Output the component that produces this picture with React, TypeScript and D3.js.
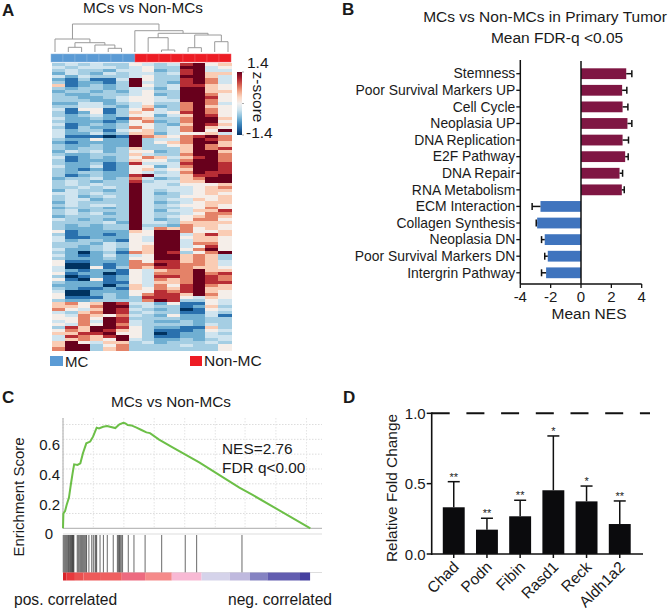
import * as d3 from 'd3';

const FONT = '"Liberation Sans", Arial, sans-serif';

// --- Panel A: heatmap, one digit per cell (looked up in digitZ), groups are only for reading
const heatRows = [
  '343433 54 34 89 56', '434443 45 33 99 45', '343324 45 23 89 44', '243243 44 34 89 66',
  '424333 45 33 99 64', '213114 95 33 89 74', '312213 94 32 89 74', '612323 95 34 88 65',
  '323323 44 24 99 65', '233232 45 33 99 66', '322333 45 23 99 75', '332234 55 43 99 85',
  '333224 55 44 99 75', '224423 45 33 79 74', '334432 46 23 79 65', '415513 57 43 79 75',
  '312513 65 45 89 75', '323423 55 24 69 85', '422321 76 33 79 96', '322212 57 23 79 95',
  '412323 55 32 69 86', '313223 75 34 79 65', '423314 56 34 79 59', '422423 66 24 55 64',
  '411101 97 65 78 97', '322522 93 44 79 87', '212222 93 56 79 96', '322322 93 35 69 76',
  '323323 63 33 69 78', '243423 55 23 69 96', '322333 64 33 79 97', '412323 57 64 68 97',
  '312223 65 53 79 97', '322312 84 44 89 98', '422412 55 24 79 98', '321212 56 45 69 98',
  '323322 54 34 79 88', '312322 89 44 68 89', '233423 74 23 67 99', '343233 83 44 66 99',
  '343433 94 43 55 56', '334343 94 44 45 67', '243323 94 34 45 66', '443433 94 23 45 65',
  '342343 94 33 55 56', '344233 94 34 46 56', '243333 94 23 45 66', '343443 94 34 55 65',
  '233323 94 33 45 75', '342333 94 24 46 68', '343423 94 33 45 77', '233333 94 34 56 76',
  '432323 94 23 57 75', '333342 94 43 66 66', '323233 93 32 76 65', '322233 94 76 75 65',
  '512222 65 99 75 56', '312212 55 99 46 86', '411222 54 99 56 65', '423321 54 99 46 65',
  '333243 55 99 47 75', '332343 56 99 45 85', '422342 56 99 57 95', '320231 76 98 35 79',
  '421242 45 99 67 63', '322232 55 99 67 63', '511222 75 88 67 64', '500212 77 98 77 64',
  '400513 76 88 76 65', '421221 54 67 79 66', '512201 54 77 79 78', '301212 54 88 79 87',
  '510512 54 76 79 87', '322211 54 66 79 88', '222202 64 75 89 76', '321121 65 76 89 66',
  '400222 55 87 89 65', '500232 57 88 69 75', '511132 38 88 54 65', '322333 37 98 33 54',
  '675698 44 25 11 54', '665799 34 33 12 63', '754698 43 23 01 54', '436798 34 33 11 43',
  '547657 43 25 22 41', '557598 33 33 22 33', '457498 43 22 32 33', '547597 43 33 32 43',
  '386998 53 22 11 63', '576986 53 11 12 54', '668895 53 01 22 43', '487689 53 11 22 44',
  '467659 43 22 32 34', '695466 34 23 33 43', '699357 33 33 43 35', '799367 33 33 33 35',
];
const digitZ = [-1.4, -1.05, -0.68, -0.47, -0.27, 0.05, 0.35, 0.7, 1.05, 1.4];
const heatCells = heatRows.map((r) => r.replace(/ /g, '').split('').map(Number));
const annoClasses = ['MC', 'MC', 'MC', 'MC', 'MC', 'MC', 'MC', 'Non', 'Non', 'Non', 'Non', 'Non', 'Non', 'Non', 'Non'];

type TreeNode = { h: number; children?: TreeNode[] };
const leaf = (): TreeNode => ({ h: 0 });
const treeData: TreeNode = {
  h: 28,
  children: [
    {
      h: 13,
      children: [
        leaf(),
        {
          h: 9.3,
          children: [
            { h: 4.7, children: [leaf(), leaf()] },
            { h: 7, children: [leaf(), { h: 3.7, children: [leaf(), leaf()] }] },
          ],
        },
      ],
    },
    {
      h: 21.3,
      children: [
        leaf(),
        {
          h: 18.7,
          children: [
            { h: 14.3, children: [leaf(), { h: 2, children: [leaf(), leaf()] }] },
            {
              h: 17,
              children: [
                { h: 4.3, children: [leaf(), leaf()] },
                { h: 10.3, children: [leaf(), leaf()] },
              ],
            },
          ],
        },
      ],
    },
  ],
};

// --- Panel B
const nesLabels = [
  'Stemness', 'Poor Survival Markers UP', 'Cell Cycle', 'Neoplasia UP', 'DNA Replication', 'E2F Pathway',
  'DNA Repair', 'RNA Metabolism', 'ECM Interaction', 'Collagen Synthesis', 'Neoplasia DN',
  'Poor Survival Markers DN', 'Intergrin Pathway',
];
const nesValues = [2.98, 2.71, 2.74, 3.06, 2.74, 2.91, 2.54, 2.69, -2.67, -2.89, -2.39, -2.19, -2.3];
const nesErrEnd = [3.35, 3.02, 3.09, 3.35, 3.13, 3.11, 2.74, 2.85, -3.22, -2.95, -2.6, -2.39, -2.6];
const nesTicks = [-4, -2, 0, 2, 4];

// --- Panel C
const esRank = [
  0, 0.15, 0.8, 1.4, 2.3, 3, 3.7, 4.3, 5.6, 6.7, 7.7, 9, 10.5, 11.6, 13, 13.9, 15.5, 17, 18.5, 20.2, 21.8, 23.3,
  24.1, 25, 26.4, 28.4, 30.3, 32.2, 33.6, 37.1, 42.3, 52.6, 68.1, 73.2, 95.5,
];
const esValue = [
  0, 0.1, 0.116, 0.157, 0.207, 0.292, 0.371, 0.431, 0.427, 0.438, 0.506, 0.573, 0.585, 0.618, 0.679, 0.674, 0.685,
  0.689, 0.683, 0.676, 0.701, 0.712, 0.708, 0.697, 0.694, 0.679, 0.663, 0.647, 0.642, 0.598, 0.546, 0.445, 0.274,
  0.225, 0,
];
const esGridY = [0, 0.1, 0.2, 0.3, 0.4, 0.5, 0.6, 0.7];
const esGridX = [0, 11.7, 23.5, 35.2, 47, 58.8, 70.3, 82.2, 94];
const esLabels = [0.6, 0.4, 0.2, 0];
const hitRanks = [
  0.1, 0.5, 0.9, 1.3, 1.7, 2.1, 2.4, 2.7, 3, 3.2, 3.5, 3.7, 4, 4.2, 5.5, 5.9, 6.3, 6.8, 7.2, 7.6, 8, 8.4, 8.8, 9.1,
  10, 11.1, 11.7, 12.4, 12.7, 13, 14.3, 15.6, 17.1, 19.4, 21, 21.4, 21.8, 22.1, 22.5, 23, 25.2, 27.4, 31.7, 38.1,
  47.2, 51.6, 69.1,
];
const rampEdges = [0, 1.4, 4.6, 7.9, 14.3, 22.7, 31.7, 42, 53.5, 64.4, 72.2, 78.9, 91.5, 95.4];
const rampColors = [
  '#d8232a', '#e8383d', '#ea5050', '#ee5a5a', '#ef5f60', '#ed6a80', '#f58a8a', '#f8b9d4', '#d5d3ea', '#bfb9de',
  '#8583c2', '#625db0', '#45409f',
];

// --- Panel D
const genes = ['Chad', 'Podn', 'Fibin', 'Rasd1', 'Reck', 'Aldh1a2'];
const foldValues = [0.332, 0.173, 0.268, 0.453, 0.374, 0.213];
const foldErrTop = [0.514, 0.254, 0.382, 0.839, 0.483, 0.377];
const foldStars = ['**', '**', '**', '*', '*', '**'];
const foldTicks = [0, 0.5, 1];

function Heatmap() {
  const x = d3.scaleBand().domain(d3.range(14).map(String)).range([52, 231]);
  const y = d3.scaleBand().domain(heatCells.map((_, i) => String(i))).range([63, 350]);
  const color = d3.scaleSequential((t) => d3.interpolateRdBu(1 - t)).domain([-1.4, 1.4]);
  const annoX = d3.scaleBand().domain(annoClasses.map((_, i) => String(i))).range([51, 231]);
  const barY = d3.scaleLinear().domain([1.4, -1.4]).range([72, 135]);

  // dendrogram: leaves spread evenly, parents sit between their children
  const treeX = d3.scalePoint().domain(d3.range(14).map(String)).range([55, 228]);
  const treeY = d3.scaleLinear().domain([0, 28]).range([52, 24]);
  const root = d3.hierarchy(treeData);
  const pos = new Map<unknown, number>();
  root.leaves().forEach((n, i) => pos.set(n, treeX(String(i))!));
  root.eachAfter((n) => {
    if (n.children) pos.set(n, d3.mean(n.children, (c) => pos.get(c)!)!);
  });

  const stops = d3.range(0, 1.01, 0.1);

  return (
    <g>
      <text x={143} y={13} textAnchor="middle" fontSize={15.3}>MCs vs Non-MCs</text>
      <text x={2} y={16} fontSize={17} fontWeight="bold">A</text>
      {root.descendants().filter((n) => n.children).map((n, i) => {
        const [a, b] = n.children!;
        return (
          <path
            key={i}
            d={`M${pos.get(a)},${treeY(a.data.h)}V${treeY(n.data.h)}H${pos.get(b)}V${treeY(b.data.h)}`}
            fill="none"
            stroke="#9a9a9a"
            strokeWidth={1}
          />
        );
      })}
      {annoClasses.map((c, i) => (
        <rect
          key={i}
          x={annoX(String(i))}
          y={54}
          width={annoX.bandwidth()}
          height={8}
          fill={c === 'MC' ? '#5b9bd5' : '#ed1c24'}
          stroke={c === 'MC' ? '#8db8e0' : '#f2555b'}
          strokeWidth={0.5}
        />
      ))}
      <defs>
        <filter id="soft" x="-2%" y="-2%" width="104%" height="104%">
          <feGaussianBlur stdDeviation="0.4" />
        </filter>
        <linearGradient id="zbar" x1="0" y1="1" x2="0" y2="0">
          {stops.map((t) => (
            <stop key={t} offset={t} stopColor={d3.interpolateRdBu(1 - t)} />
          ))}
        </linearGradient>
      </defs>
      <g shapeRendering="crispEdges" filter="url(#soft)">
        {heatCells.map((row, r) =>
          row.map((v, c) => (
            <rect
              key={`${r}-${c}`}
              x={x(String(c))}
              y={y(String(r))}
              width={x.bandwidth() + 0.5}
              height={y.bandwidth() + 0.5}
              fill={color(digitZ[v])}
            />
          )),
        )}
      </g>
      <rect x={237} y={barY(1.4)} width={5} height={barY(-1.4) - barY(1.4)} fill="url(#zbar)" />
      {[1.4, 0, -1.4].map((t) => (
        <line key={t} x1={242} x2={244} y1={barY(t)} y2={barY(t)} stroke="#888" strokeWidth={0.7} />
      ))}
      <text x={247} y={68} fontSize={15.5}>1.4</text>
      <text x={246} y={138} fontSize={15.5}>-1.4</text>
      <text transform="translate(253,97) rotate(90)" textAnchor="middle" fontSize={15.5}>z-score</text>
      <rect x={50} y={356} width={13} height={10} fill="#5b9bd5" />
      <text x={65} y={367} fontSize={15}>MC</text>
      <rect x={190} y={356} width={12} height={10} fill="#ed1c24" />
      <text x={204} y={366} fontSize={15.5}>Non-MC</text>
    </g>
  );
}

function NesBars() {
  const x = d3.scaleLinear().domain([-4, 4]).range([520.3, 641.7]);
  const y = d3.scaleBand().domain(nesLabels).range([62.5, 284]).padding(0.35);
  const axisY = 284;
  return (
    <g>
      <text x={342} y={15} fontSize={17} fontWeight="bold">B</text>
      <text x={545} y={22} textAnchor="middle" fontSize={15.5}>MCs vs Non-MCs in Primary Tumor</text>
      <text x={557} y={43} textAnchor="middle" fontSize={15.5}>Mean FDR-q &lt;0.05</text>
      {nesLabels.map((d, i) => {
        const cy = y(d)! + y.bandwidth() / 2;
        const v = nesValues[i];
        return (
          <g key={d}>
            <rect
              x={x(Math.min(0, v))}
              y={y(d)}
              width={Math.abs(x(v) - x(0))}
              height={y.bandwidth()}
              fill={v > 0 ? '#7f1643' : '#3f74be'}
            />
            <line x1={x(v)} x2={x(nesErrEnd[i])} y1={cy} y2={cy} stroke="#111" strokeWidth={1.5} />
            <line x1={x(nesErrEnd[i])} x2={x(nesErrEnd[i])} y1={cy - 3.5} y2={cy + 3.5} stroke="#111" strokeWidth={1.5} />
            <line x1={x(-4) - 4} x2={x(-4)} y1={cy} y2={cy} stroke="#111" strokeWidth={1.3} />
            <text x={x(-4) - 5} y={cy + 4.8} textAnchor="end" fontSize={13.9}>{d}</text>
          </g>
        );
      })}
      <line x1={x(-4)} x2={x(-4)} y1={60} y2={axisY} stroke="#111" strokeWidth={1.5} />
      <line x1={x(0)} x2={x(0)} y1={61} y2={axisY} stroke="#111" strokeWidth={1.5} />
      <line x1={x(-4)} x2={x(4)} y1={axisY} y2={axisY} stroke="#111" strokeWidth={1.5} />
      {nesTicks.map((t) => (
        <g key={t} transform={`translate(${x(t)},${axisY})`}>
          <line y2={4} stroke="#111" strokeWidth={1.3} />
          <text y={18} textAnchor="middle" fontSize={15}>{t}</text>
        </g>
      ))}
      <text x={589} y={318.5} textAnchor="middle" fontSize={15.5}>Mean NES</text>
    </g>
  );
}

function EnrichmentPlot() {
  const x = d3.scaleLinear().domain([0, 100]).range([63, 322]);
  const y = d3.scaleLinear().domain([0, 0.7]).range([528.3, 424.5]);
  const line = d3
    .line<number>()
    .x((d) => x(d))
    .y((_, i) => y(esValue[i]));
  return (
    <g>
      <text x={2} y={403} fontSize={17} fontWeight="bold">C</text>
      <text x={171} y={407} textAnchor="middle" fontSize={15.3}>MCs vs Non-MCs</text>
      {esGridY.map((t) => (
        <line key={t} x1={x(0)} x2={x(100)} y1={y(t)} y2={y(t)} stroke={t === 0 ? '#aaa' : '#ddd'} strokeDasharray={t === 0 ? undefined : '1.5 1.5'} />
      ))}
      {esGridX.map((t) => (
        <line key={t} x1={x(t)} x2={x(t)} y1={418} y2={y(0)} stroke="#e4e4e4" strokeDasharray="1.5 1.5" />
      ))}
      <line x1={x(0)} x2={x(0)} y1={418} y2={y(0)} stroke="#aaa" />
      <path d={line(esRank)!} fill="none" stroke="#6cbf47" strokeWidth={2} />
      {esLabels.map((t) => (
        <text key={t} x={t === 0 ? 53 : 60} y={y(t) + 11} textAnchor="end" fontSize={15}>{t}</text>
      ))}
      <text transform="translate(24,497) rotate(-90)" textAnchor="middle" fontSize={15}>Enrichment Score</text>
      <text x={222} y={454} fontSize={15.4}>NES=2.76</text>
      <text x={222} y={473} fontSize={15.4}>FDR q&lt;0.00</text>
      <line x1={x(0)} x2={x(100)} y1={534} y2={534} stroke="#ddd" />
      <line x1={x(0)} x2={x(100)} y1={572.5} y2={572.5} stroke="#ddd" />
      {hitRanks.map((r) => (
        <line key={r} x1={x(r)} x2={x(r)} y1={535} y2={572.5} stroke="#111" strokeOpacity={0.7} strokeWidth={0.9} />
      ))}
      {rampColors.map((c, i) => (
        <rect key={c} x={x(rampEdges[i])} y={572.5} width={x(rampEdges[i + 1]) - x(rampEdges[i])} height={8} fill={c} />
      ))}
      <text x={14} y={605} fontSize={15.6}>pos. correlated</text>
      <text x={228} y={605} fontSize={15.6}>neg. correlated</text>
    </g>
  );
}

function FoldBars() {
  const x = d3.scaleBand().domain(genes).range([431.5, 642]).padding(0.34);
  const y = d3.scaleLinear().domain([0, 1]).range([554, 413.3]);
  return (
    <g>
      <text x={343} y={403} fontSize={17} fontWeight="bold">D</text>
      <text transform="translate(397,488) rotate(-90)" textAnchor="middle" fontSize={15.4}>Relative Fold Change</text>
      <line x1={431.7} x2={650} y1={y(1)} y2={y(1)} stroke="#111" strokeWidth={2} strokeDasharray="18 16.7" />
      {genes.map((g, i) => {
        const cx = x(g)! + x.bandwidth() / 2;
        return (
          <g key={g}>
            <line x1={cx} x2={cx} y1={y(foldValues[i])} y2={y(foldErrTop[i])} stroke="#111" strokeWidth={1.5} />
            <line x1={cx - 6} x2={cx + 6} y1={y(foldErrTop[i])} y2={y(foldErrTop[i])} stroke="#111" strokeWidth={1.5} />
            <rect x={x(g)} y={y(foldValues[i])} width={x.bandwidth()} height={y(0) - y(foldValues[i])} fill="#0b0b0d" />
            <text x={cx} y={y(foldErrTop[i]) - 1} textAnchor="middle" fontSize={11}>{foldStars[i]}</text>
            <line x1={cx} x2={cx} y1={y(0)} y2={y(0) + 4} stroke="#111" strokeWidth={1.5} />
            <text transform={`translate(${cx + 6},${y(0) + 14}) rotate(-45)`} textAnchor="end" fontSize={15.5}>{g}</text>
          </g>
        );
      })}
      <line x1={431.7} x2={431.7} y1={y(1) - 1} y2={y(0) + 1} stroke="#111" strokeWidth={1.6} />
      <line x1={431.7} x2={643} y1={y(0)} y2={y(0)} stroke="#111" strokeWidth={1.6} />
      {foldTicks.map((t) => (
        <g key={t} transform={`translate(431.7,${y(t)})`}>
          <line x1={-5} x2={0} stroke="#111" strokeWidth={1.5} />
          <text x={-6} y={5.5} textAnchor="end" fontSize={15}>{t.toFixed(1)}</text>
        </g>
      ))}
    </g>
  );
}

export default function App() {
  return (
    <svg
      width={670}
      height={610}
      style={{ position: 'absolute', left: 0, top: 0, background: '#fff' }}
      fontFamily={FONT}
      fill="#1a1a1a"
    >
      <Heatmap />
      <NesBars />
      <EnrichmentPlot />
      <FoldBars />
    </svg>
  );
}
